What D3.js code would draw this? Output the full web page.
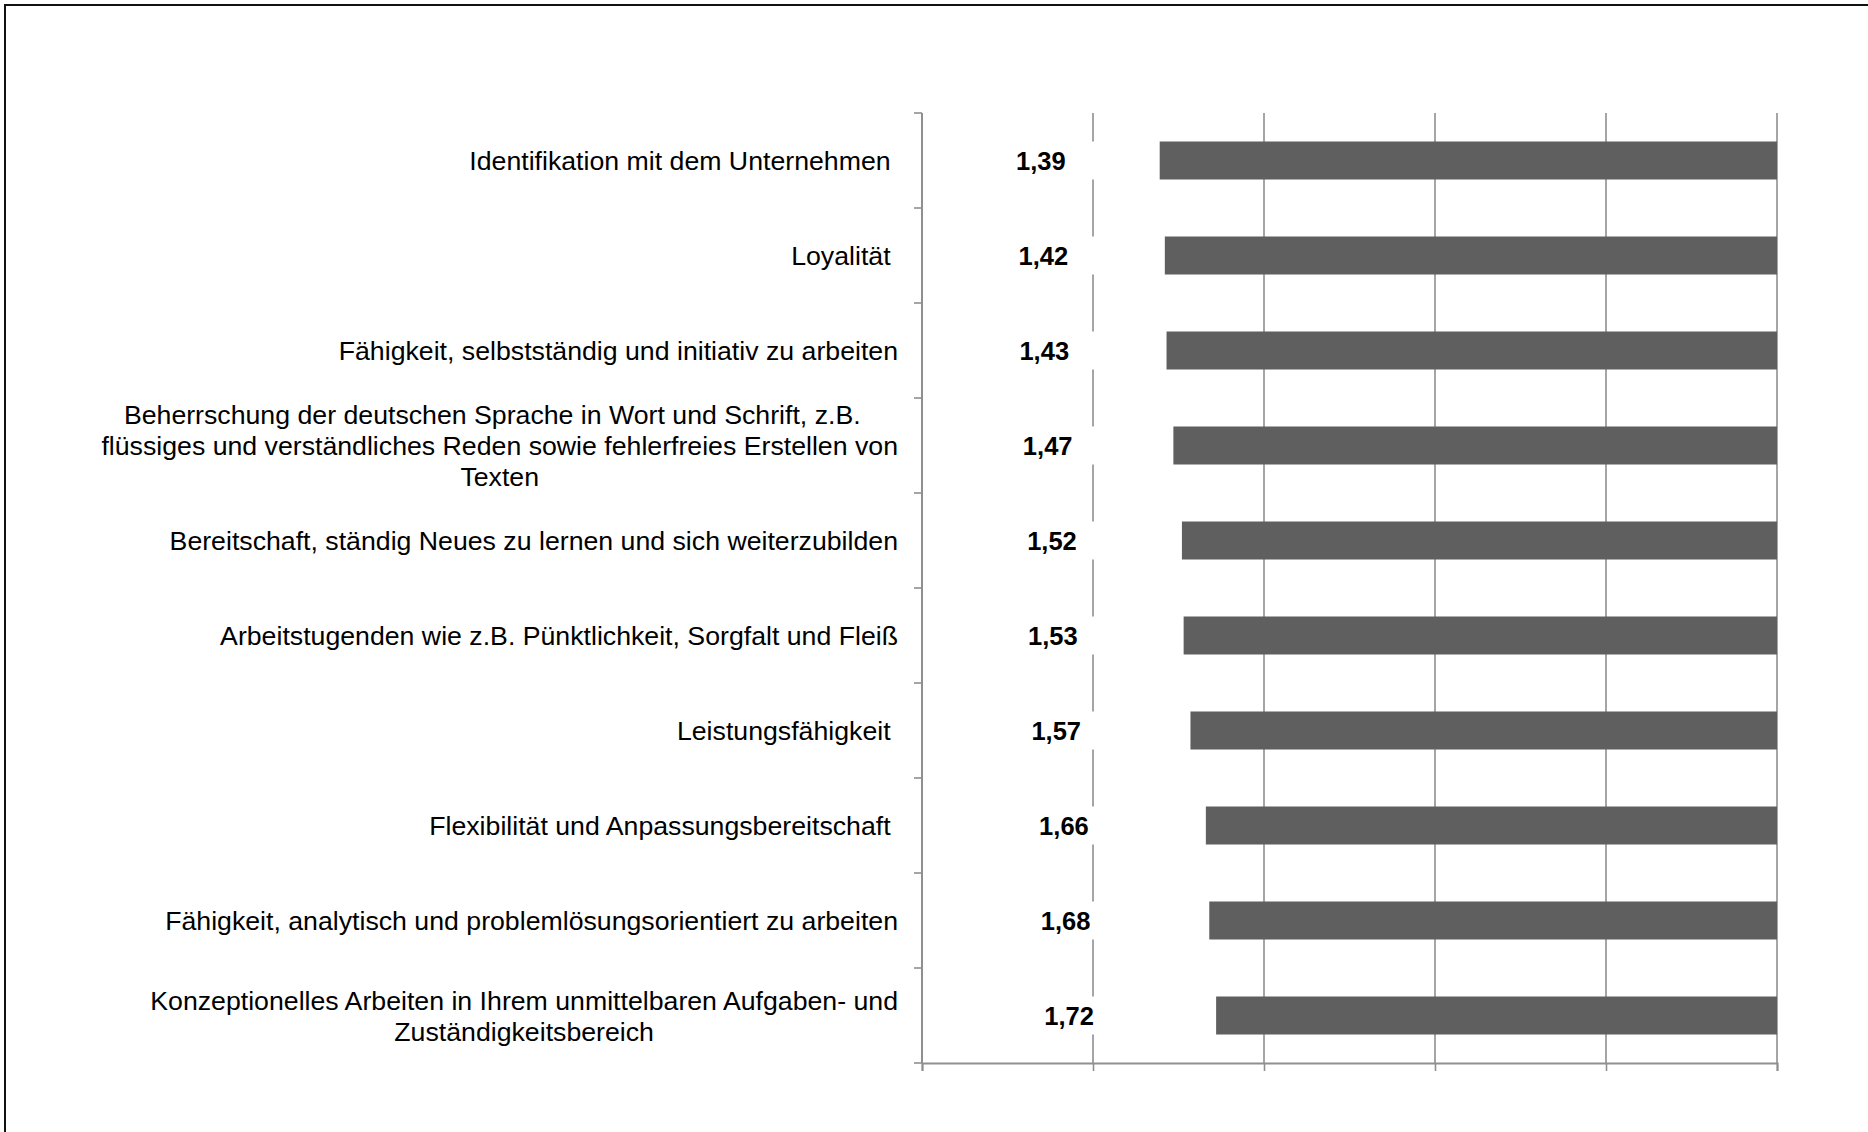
<!DOCTYPE html>
<html>
<head>
<meta charset="utf-8">
<script src="https://cdn.jsdelivr.net/npm/d3@7"></script>
<style>
  body { margin: 0; background: #fff; }
  text { font-family: "Liberation Sans", Arial, sans-serif; white-space: pre; }
</style>
</head>
<body>
<svg id="chart" width="1868" height="1132"></svg>
<script>
// Category labels ("\n" marks a line break as in the original)
const categories = [
    "Identifikation mit dem Unternehmen ",
    "Loyalität ",
    "Fähigkeit, selbstständig und initiativ zu arbeiten",
    "Beherrschung der deutschen Sprache in Wort und Schrift, z.B.  \nflüssiges und verständliches Reden sowie fehlerfreies Erstellen von\nTexten",
    "Bereitschaft, ständig Neues zu lernen und sich weiterzubilden",
    "Arbeitstugenden wie z.B. Pünktlichkeit, Sorgfalt und Fleiß",
    "Leistungsfähigkeit ",
    "Flexibilität und Anpassungsbereitschaft ",
    "Fähigkeit, analytisch und problemlösungsorientiert zu arbeiten",
    "Konzeptionelles Arbeiten in Ihrem unmittelbaren Aufgaben- und\nZuständigkeitsbereich"
];
const values = [1.39, 1.42, 1.43, 1.47, 1.52, 1.53, 1.57, 1.66, 1.68, 1.72];
const xTicks = [0, 1, 2, 3, 4, 5];

let rows = categories.map((c, i) => ({ cat: c, value: values[i] }));

let svg = d3.select("#chart");
let axisColor = "#8f8f8f";

// frame (only top and left edges are visible)
svg.append("rect")
    .attr("x", 5).attr("y", 5)
    .attr("width", 1900).attr("height", 1200)
    .attr("fill", "none")
    .attr("stroke", "#111")
    .attr("stroke-width", 2);

let x = d3.scaleLinear().domain([0, 5]).range([922, 1777]);
let y = d3.scaleBand()
    .domain(categories)
    .range([113, 1063])
    .paddingInner(0.6)
    .paddingOuter(0.3);

// vertical gridlines
svg.append("g")
    .selectAll("line")
    .data(xTicks.slice(1))
    .enter()
    .append("line")
    .attr("x1", d => x(d)).attr("x2", d => x(d))
    .attr("y1", 113).attr("y2", 1063)
    .attr("stroke", axisColor)
    .attr("stroke-width", 1.6);

// invisible (white) first segment hides the gridlines
svg.append("g")
    .selectAll("rect")
    .data(rows)
    .enter()
    .append("rect")
    .attr("x", x(0))
    .attr("y", d => y(d.cat))
    .attr("width", d => x(d.value) - x(0))
    .attr("height", y.bandwidth())
    .attr("fill", "#fff");

// dark remainder up to the axis max
svg.append("g")
    .selectAll("rect")
    .data(rows)
    .enter()
    .append("rect")
    .attr("x", d => x(d.value))
    .attr("y", d => y(d.cat))
    .attr("width", d => x(5) - x(d.value))
    .attr("height", y.bandwidth())
    .attr("fill", "#5f5f5f");

// bottom axis
let xAxis = svg.append("g")
    .attr("transform", "translate(0,1063)")
    .call(d3.axisBottom(x).tickValues(xTicks).tickSize(8).tickFormat(""));
xAxis.select(".domain").attr("stroke", axisColor).attr("stroke-width", 2);
xAxis.selectAll(".tick line").attr("stroke", axisColor).attr("stroke-width", 1.6);

// left axis: ticks at category boundaries
let step = y.step();
let bounds = d3.range(categories.length + 1).map(i => 113 + i * step);
svg.append("line")
    .attr("x1", x(0)).attr("x2", x(0))
    .attr("y1", 113).attr("y2", 1063)
    .attr("stroke", axisColor)
    .attr("stroke-width", 2);
svg.append("g")
    .selectAll("line")
    .data(bounds)
    .enter()
    .append("line")
    .attr("x1", x(0) - 8).attr("x2", x(0))
    .attr("y1", d => d).attr("y2", d => d)
    .attr("stroke", axisColor)
    .attr("stroke-width", 1.6);

// value labels, centred in the white segment
svg.append("g")
    .selectAll("text")
    .data(rows)
    .enter()
    .append("text")
    .attr("x", d => x(d.value / 2))
    .attr("y", d => y(d.cat) + y.bandwidth() / 2 + 9.5)
    .attr("text-anchor", "middle")
    .attr("font-size", 25.5)
    .attr("font-weight", "bold")
    .attr("fill", "#000")
    .text(d => d.value.toFixed(2).replace(".", ","));

// category labels: block right-aligned, lines centred inside the block
let labelRight = 898, lineH = 31;
rows.forEach(d => {
    let lines = d.cat.split("\n");
    let cy = y(d.cat) + y.bandwidth() / 2;
    let g = svg.append("g");
    let texts = lines.map((ln, i) => g.append("text")
        .attr("y", cy + 9.5 + (i - (lines.length - 1) / 2) * lineH)
        .attr("font-size", 26.7)
        .attr("fill", "#000")
        .attr("text-anchor", "middle")
        .text(ln));
    let maxW = d3.max(texts, t => t.node().getComputedTextLength());
    texts.forEach(t => t.attr("x", labelRight - maxW / 2));
});
</script>
</body>
</html>
